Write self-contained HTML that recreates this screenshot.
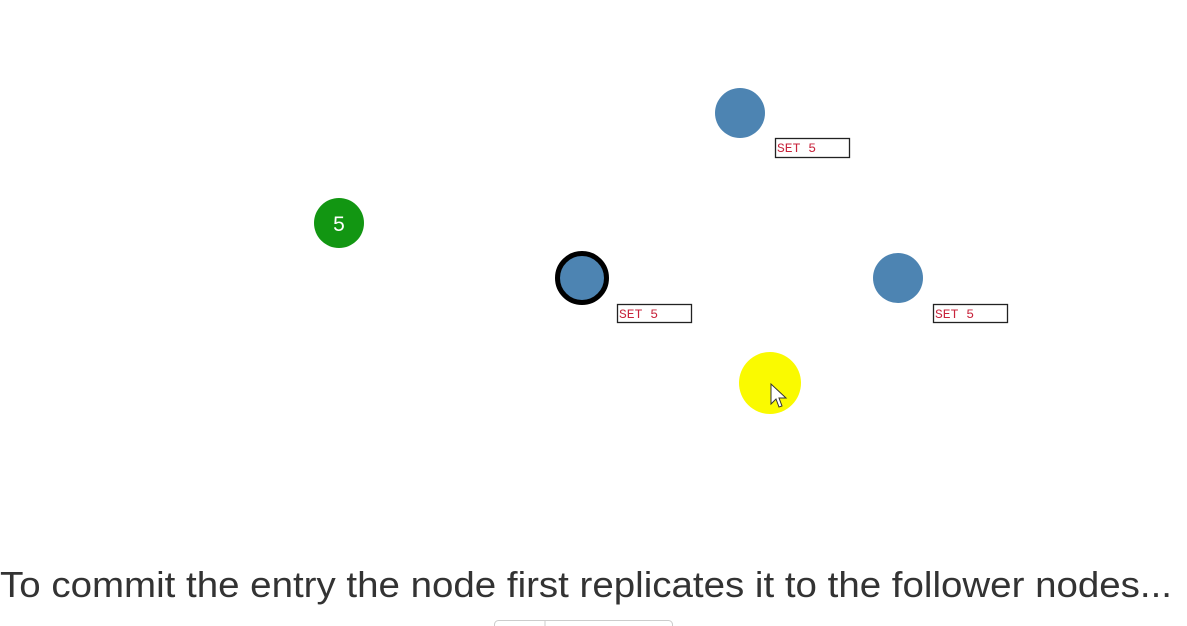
<!DOCTYPE html>
<html><head><style>
html,body{margin:0;padding:0;background:#fff;width:1187px;height:626px;overflow:hidden}
.m{font-family:"Liberation Mono",monospace;font-size:13px;fill:#c8243c}
</style></head><body>
<svg width="1187" height="626" xmlns="http://www.w3.org/2000/svg" style="display:block">
<circle cx="339" cy="223" r="25" fill="#129612"/>
<text x="339" y="231" style="font-family:'Liberation Sans',sans-serif;font-size:21px" fill="#fff" text-anchor="middle">5</text>
<circle cx="740" cy="113" r="25" fill="#4d84b2"/>
<rect x="775.5" y="138.5" width="74" height="19" fill="#fff" stroke="#222" stroke-width="1.3"/>
<text x="777" y="152" class="m">SET 5</text>
<circle cx="582" cy="278" r="24.5" fill="#4d84b2" stroke="#000" stroke-width="5"/>
<rect x="617.5" y="304.5" width="74" height="18" fill="#fff" stroke="#222" stroke-width="1.3"/>
<text x="619" y="318" class="m">SET 5</text>
<circle cx="898" cy="278" r="25" fill="#4d84b2"/>
<rect x="933.5" y="304.5" width="74" height="18" fill="#fff" stroke="#222" stroke-width="1.3"/>
<text x="935" y="318" class="m">SET 5</text>
<circle cx="770" cy="383" r="31" fill="#fafa00"/>
<path d="M771 384 L771 404 L776 399 L779 407 L782 406 L779 398 L786 398 Z" fill="#fff" stroke="#333" stroke-width="1"/>
<text x="0" y="597" style="font-family:'Liberation Sans',sans-serif;font-size:36px" fill="#333" textLength="1172" lengthAdjust="spacingAndGlyphs">To commit the entry the node first replicates it to the follower nodes...</text>
<rect x="494.5" y="620.5" width="178" height="20" rx="4" fill="#fff" stroke="#ccc"/>
<line x1="545" y1="620" x2="545" y2="626" stroke="#ccc"/>
</svg>
</body></html>
